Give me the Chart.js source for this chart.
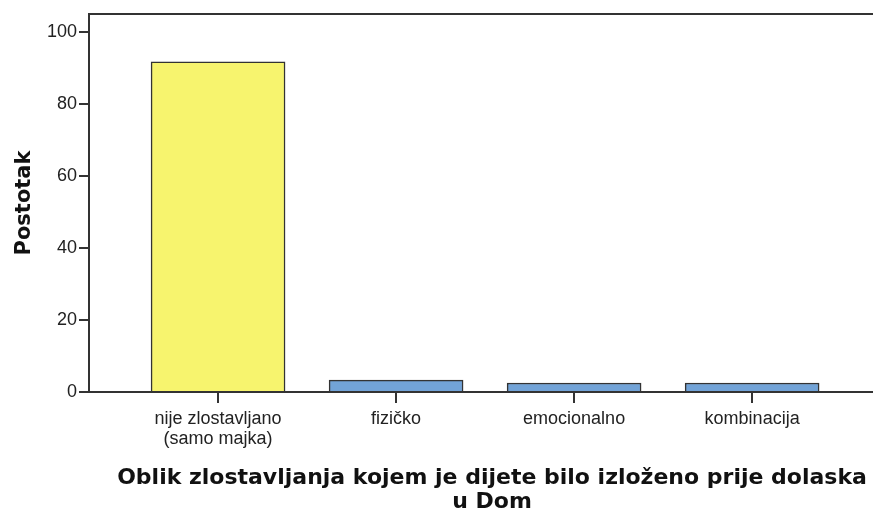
<!DOCTYPE html>
<html>
<head>
<meta charset="utf-8">
<script src="https://cdn.jsdelivr.net/npm/chart.js@4/dist/chart.umd.min.js"></script>
<style>
  html, body { margin: 0; padding: 0; background: #fff; }
  canvas { display: block; }
</style>
</head>
<body>
<canvas id="myChart" width="873" height="516"></canvas>
<script>
const kategorije = [['nije zlostavljano', '(samo majka)'], 'fizičko', 'emocionalno', 'kombinacija'];
const postotak = [91.7, 3.3, 2.5, 2.5];
const boje = ['#f7f46e', '#72a3d7', '#72a3d7', '#72a3d7'];
const yTicks = [0, 20, 40, 60, 80, 100];
const naslovX = ['Oblik zlostavljanja kojem je dijete bilo izloženo prije dolaska', 'u Dom'];

// gornja linija okvira i naslov x osi (SPSS ga centrira malo desnije od područja grafa)
const okvir = {
    id: 'okvir',
    afterDraw(chart) {
        const { ctx, chartArea } = chart;
        ctx.save();
        ctx.strokeStyle = '#333';
        ctx.lineWidth = 2;
        ctx.beginPath();
        ctx.moveTo(chartArea.left, chartArea.top);
        ctx.lineTo(chart.width, chartArea.top);
        ctx.stroke();

        ctx.fillStyle = '#111';
        ctx.font = 'bold 22px "DejaVu Sans"';
        ctx.textAlign = 'center';
        ctx.textBaseline = 'middle';
        const cx = (chartArea.left + chartArea.right) / 2 + 11;
        naslovX.forEach((t, i) => ctx.fillText(t, cx, 478 + i * 24));
        ctx.restore();
    }
};

const ctx = document.getElementById('myChart');
new Chart(ctx, {
    type: 'bar',
    data: {
        datasets: [{
            data: postotak.map((v, i) => ({ x: i, y: v })),
            backgroundColor: boje,
            borderColor: '#333',
            borderWidth: 1.5,
            barThickness: 134
        }]
    },
    options: {
        responsive: false,
        animation: false,
        devicePixelRatio: 1,
        layout: { padding: { top: 14, right: 0, left: 0, bottom: 0 } },
        plugins: { legend: { display: false }, tooltip: { enabled: false } },
        scales: {
            x: {
                type: 'linear',
                offset: false,
                min: -0.725,
                max: 3.679,
                afterBuildTicks: (s) => { s.ticks = kategorije.map((_, i) => ({ value: i })); },
                afterFit: (s) => { s.height = 124; },
                ticks: {
                    autoSkip: false, maxRotation: 0, padding: 6,
                    color: '#222', font: { family: 'Arial', size: 18, lineHeight: 1.1 },
                    callback: (v) => kategorije[v]
                },
                grid: { display: true, offset: false, drawOnChartArea: false, drawTicks: true, tickLength: 11, color: '#333', lineWidth: 2 },
                border: { display: true, color: '#333', width: 2 }
            },
            y: {
                min: 0,
                max: 105,
                afterBuildTicks: (s) => { s.ticks = yTicks.map(v => ({ value: v })); },
                afterFit: (s) => { s.width = 89; },
                ticks: { padding: 2, color: '#222', font: { family: 'Arial', size: 18 } },
                grid: { display: true, drawOnChartArea: false, drawTicks: true, tickLength: 10, color: '#333', lineWidth: 2 },
                border: { display: true, color: '#333', width: 2 },
                title: {
                    display: true,
                    text: 'Postotak',
                    color: '#111',
                    font: { family: 'DejaVu Sans', size: 21, weight: 'bold', lineHeight: 1.2 },
                    padding: { top: 12, bottom: 0 }
                }
            }
        }
    },
    plugins: [okvir]
});
</script>
</body>
</html>
